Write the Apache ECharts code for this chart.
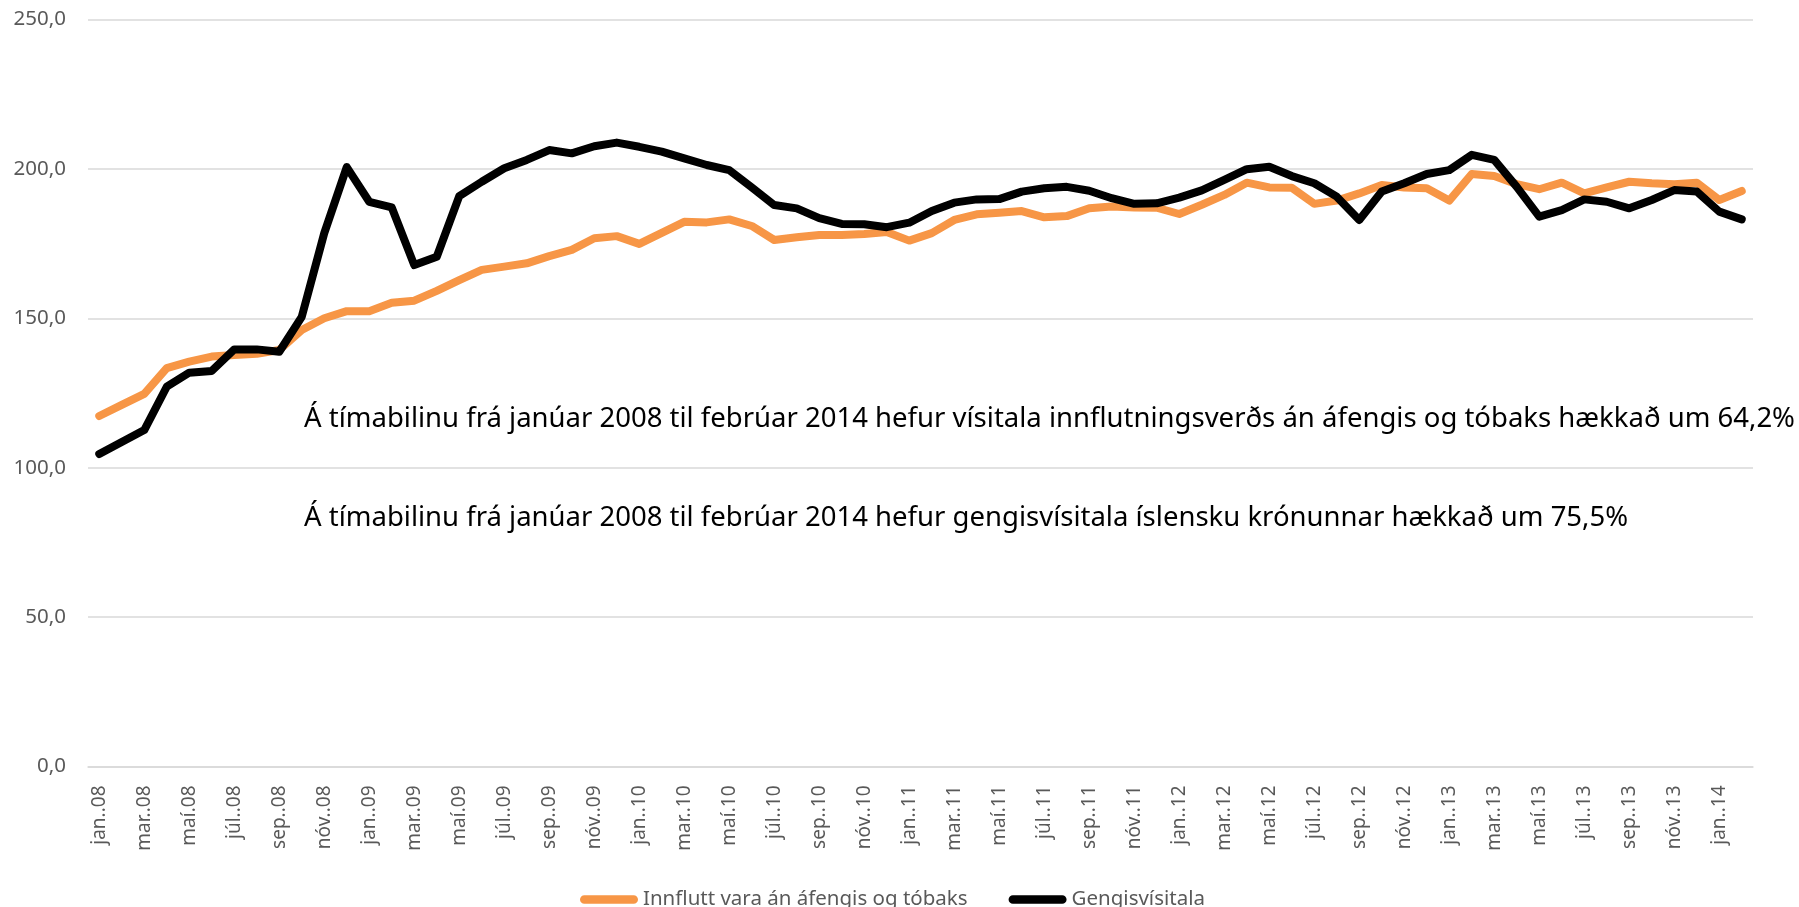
<!DOCTYPE html>
<html>
<head>
<meta charset="utf-8">
<script src="https://cdn.jsdelivr.net/npm/echarts@6/dist/echarts.min.js"></script>
<style>
  html, body { margin: 0; padding: 0; background: #fff; }
  #chart { width: 1799px; height: 907px; }
</style>
</head>
<body>
<div id="chart"></div>
<script>
// mánuðir jan. 2008 - feb. 2014
var months = [
    'jan..08', 'feb..08', 'mar..08', 'apr..08', 'maí.08', 'jún..08', 'júl..08', 'ágú..08', 'sep..08', 'okt..08', 'nóv..08', 'des..08',
    'jan..09', 'feb..09', 'mar..09', 'apr..09', 'maí.09', 'jún..09', 'júl..09', 'ágú..09', 'sep..09', 'okt..09', 'nóv..09', 'des..09',
    'jan..10', 'feb..10', 'mar..10', 'apr..10', 'maí.10', 'jún..10', 'júl..10', 'ágú..10', 'sep..10', 'okt..10', 'nóv..10', 'des..10',
    'jan..11', 'feb..11', 'mar..11', 'apr..11', 'maí.11', 'jún..11', 'júl..11', 'ágú..11', 'sep..11', 'okt..11', 'nóv..11', 'des..11',
    'jan..12', 'feb..12', 'mar..12', 'apr..12', 'maí.12', 'jún..12', 'júl..12', 'ágú..12', 'sep..12', 'okt..12', 'nóv..12', 'des..12',
    'jan..13', 'feb..13', 'mar..13', 'apr..13', 'maí.13', 'jún..13', 'júl..13', 'ágú..13', 'sep..13', 'okt..13', 'nóv..13', 'des..13',
    'jan..14', 'feb..14'
];

// Innflutt vara án áfengis og tóbaks
var innflutt = [
    117.3, 121.0, 124.7, 133.3, 135.5, 137.2, 137.7, 138.1, 139.4, 146.1, 150.0, 152.4,
    152.4, 155.2, 155.9, 159.2, 162.8, 166.2, 167.3, 168.4, 170.8, 172.9, 176.8, 177.5,
    174.9, 178.6, 182.3, 182.1, 183.1, 180.9, 176.2, 177.1, 177.9, 177.9, 178.2, 178.9,
    176.0, 178.5, 182.9, 184.8, 185.3, 185.9, 183.8, 184.2, 186.8, 187.4, 187.1, 187.0,
    184.9, 188.0, 191.3, 195.4, 193.8, 193.7, 188.3, 189.4, 191.8, 194.6, 193.8, 193.5,
    189.4, 198.3, 197.6, 194.9, 193.2, 195.4, 191.8, 193.8, 195.7, 195.2, 194.9, 195.4,
    189.6, 192.6
];

// Gengisvísitala
var gengi = [
    104.6, 108.6, 112.6, 127.1, 131.8, 132.4, 139.6, 139.6, 138.8, 150.5, 178.5, 200.6,
    189.0, 187.1, 167.8, 170.6, 190.9, 195.7, 200.2, 203.0, 206.3, 205.2, 207.6, 208.8,
    207.4, 205.8, 203.5, 201.3, 199.6, 193.8, 187.9, 186.8, 183.5, 181.6, 181.5, 180.5,
    182.0, 185.9, 188.7, 189.8, 189.9, 192.4, 193.5, 194.0, 192.7, 190.2, 188.3, 188.5,
    190.4, 192.8, 196.3, 199.9, 200.7, 197.6, 195.2, 190.7, 182.9, 192.4, 195.2, 198.3,
    199.6, 204.7, 203.0, 194.0, 184.0, 186.2, 189.8, 189.0, 186.8, 189.6, 192.9, 192.4,
    185.7, 183.1
];

var seriesNames = ['Innflutt vara án áfengis og tóbaks', 'Gengisvísitala'];

var notes = [
    'Á tímabilinu frá janúar 2008 til febrúar 2014 hefur vísitala innflutningsverðs án áfengis og tóbaks hækkað um 64,2%',
    'Á tímabilinu frá janúar 2008 til febrúar 2014 hefur gengisvísitala íslensku krónunnar hækkað um 75,5%'
];

var FONT = "'Noto Sans', 'Open Sans', sans-serif";
// hylki (pillulaga tákn) fyrir skýringar
var PILL = 'path://M4.5,0 L55.5,0 A4.5,4.5 0 0 1 55.5,9 L4.5,9 A4.5,4.5 0 0 1 4.5,0 Z';

var chartDom = document.getElementById('chart');
var myChart = echarts.init(chartDom, null, { renderer: 'canvas' });

var option = {
    backgroundColor: '#ffffff',
    animation: false,
    grid: {
        left: 88,
        right: 46,
        top: 19.5,
        bottom: 140.5
    },
    legend: {
        top: 889,
        left: 580,
        padding: 0,
        itemWidth: 58,
        itemHeight: 9,
        itemGap: 41,
        icon: PILL,
        textStyle: {
            fontFamily: FONT,
            fontSize: 20.5,
            color: '#595959'
        },
        data: seriesNames
    },
    xAxis: {
        type: 'category',
        data: months,
        boundaryGap: true,
        axisLine: { lineStyle: { color: '#d9d9d9', width: 1.5 } },
        axisTick: {
            interval: 1,
            length: 7,
            lineStyle: { color: '#d9d9d9', width: 1.5 }
        },
        axisLabel: {
            interval: 1,
            rotate: 90,
            margin: 19,
            fontFamily: FONT,
            fontSize: 19,
            color: '#595959'
        }
    },
    yAxis: {
        type: 'value',
        min: 0,
        max: 250,
        interval: 50,
        axisLine: { show: false },
        axisTick: { show: false },
        splitLine: { lineStyle: { color: '#d9d9d9', width: 1.5 } },
        axisLabel: {
            margin: 22,
            fontFamily: FONT,
            fontSize: 20.5,
            color: '#595959',
            formatter: function (v) {
                return v.toFixed(1).replace('.', ',');
            }
        }
    },
    graphic: [
        {
            type: 'text',
            left: 304,
            top: 405,
            z: 100,
            style: {
                text: notes[0],
                fontFamily: FONT,
                fontSize: 27.5,
                fill: '#000'
            }
        },
        {
            type: 'text',
            left: 304,
            top: 504,
            z: 100,
            style: {
                text: notes[1],
                fontFamily: FONT,
                fontSize: 27.5,
                fill: '#000'
            }
        }
    ],
    series: [
        {
            name: seriesNames[0],
            type: 'line',
            data: innflutt,
            showSymbol: false,
            symbol: 'none',
            lineStyle: { color: '#f79646', width: 8, cap: 'round', join: 'round' },
            itemStyle: { color: '#f79646' }
        },
        {
            name: seriesNames[1],
            type: 'line',
            data: gengi,
            showSymbol: false,
            symbol: 'none',
            lineStyle: { color: '#000000', width: 8, cap: 'round', join: 'round' },
            itemStyle: { color: '#000000' }
        }
    ]
};

myChart.setOption(option);
</script>
</body>
</html>
